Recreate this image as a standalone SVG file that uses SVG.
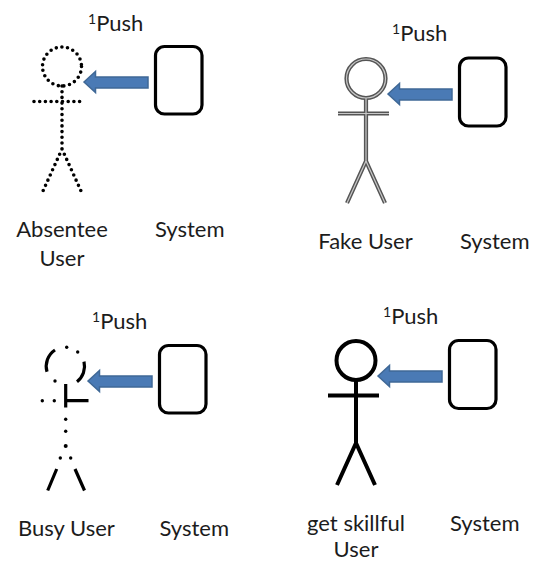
<svg xmlns="http://www.w3.org/2000/svg" width="536" height="561" viewBox="0 0 536 561">
<style>
text{font-family:"Lato","Liberation Sans",sans-serif;font-size:22px;fill:#1c1c1c}
.m{text-anchor:middle}
.sup{font-size:14px}
.box{fill:#fff;stroke:#000;stroke-width:3.2}
.arrow{fill:#4a7ab5;stroke:#3f6896;stroke-width:1.5}
.fig{fill:none;stroke:#000}
.dot{stroke-width:3.6;stroke-dasharray:0 5.700;stroke-linecap:round}
.solid{stroke-width:4}
.outer{stroke:#555;stroke-width:4.200}
.inner{stroke:#c8c8c8;stroke-width:1.200}
.busy{stroke-width:3.200;stroke-linecap:butt}
.dots{fill:#000}
</style>
<defs>
<path id="arrowShape" d="M84 82 L95.500 71.500 V77 H148 V88 H95.500 V92.500 Z"/>
<g id="stick"><circle cx="62" cy="66.500" r="19.500"/><path d="M62 86V149M34 101.500H85M62 149L43 191M62 149L81 191"/></g>
</defs>
<rect width="536" height="561" fill="#fff"/>
<g id="connectors">
<use href="#arrowShape" class="arrow"/>
<use href="#arrowShape" class="arrow" x="304" y="12"/>
<use href="#arrowShape" class="arrow" x="4" y="299"/>
<use href="#arrowShape" class="arrow" x="294" y="294"/>
</g>
<g id="absentee-user">
<use href="#stick" class="fig dot"/>
<text x="62" y="237" class="m">Absentee</text><text x="62" y="266" class="m">User</text>
</g>
<g id="system-1">
<rect class="box" x="155.500" y="46.500" width="46.500" height="67.500" rx="9"/>
<text x="155" y="237">System</text>
</g>
<text id="push-1" x="88" y="31"><tspan class="sup" dy="-7">1</tspan><tspan dy="7">Push</tspan></text>
<g id="fake-user">
<use href="#stick" class="fig outer" x="304" y="12"/>
<use href="#stick" class="fig inner" x="304" y="12"/>
<text x="365.500" y="249" class="m">Fake User</text>
</g>
<g id="system-2">
<rect class="box" x="459.500" y="58" width="46.500" height="68" rx="9"/>
<text x="460" y="249">System</text>
</g>
<text id="push-2" x="392" y="41"><tspan class="sup" dy="-7">1</tspan><tspan dy="7">Push</tspan></text>
<g id="busy-user">
<g class="fig busy">
<path d="M55 350A19.500 19.500 0 0 0 47 371.700M84 361.700A19.500 19.500 0 0 1 77 381.700M65.700 384V407.500M65.700 400.700H88.500M56.700 469L47.700 490.500M75 469L84.500 490.500"/>
</g>
<g class="dots">
<circle cx="66.700" cy="347.300" r="1.700"/><circle cx="77.700" cy="352" r="1.700"/><circle cx="55" cy="381" r="1.700"/>
<circle cx="42.300" cy="400.700" r="1.700"/><circle cx="54.300" cy="400.700" r="1.700"/>
<circle cx="65.700" cy="419.300" r="1.700"/><circle cx="65.700" cy="431.300" r="1.700"/><circle cx="65.700" cy="446" r="2"/>
<circle cx="60.300" cy="458" r="1.700"/><circle cx="70.700" cy="458" r="1.700"/>
</g>
<text x="18" y="536">Busy User</text>
</g>
<g id="system-3">
<rect class="box" x="159.500" y="345.500" width="46.500" height="67.500" rx="9"/>
<text x="159.500" y="536">System</text>
</g>
<text id="push-3" x="92" y="329"><tspan class="sup" dy="-7">1</tspan><tspan dy="7">Push</tspan></text>
<g id="skillful-user">
<use href="#stick" class="fig solid" x="294" y="294"/>
<text x="356" y="531" class="m">get skillful</text><text x="356" y="557" class="m">User</text>
</g>
<g id="system-4">
<rect class="box" x="449.500" y="340.500" width="46.500" height="68" rx="9"/>
<text x="450" y="531">System</text>
</g>
<text id="push-4" x="383" y="324"><tspan class="sup" dy="-7">1</tspan><tspan dy="7">Push</tspan></text>
</svg>
